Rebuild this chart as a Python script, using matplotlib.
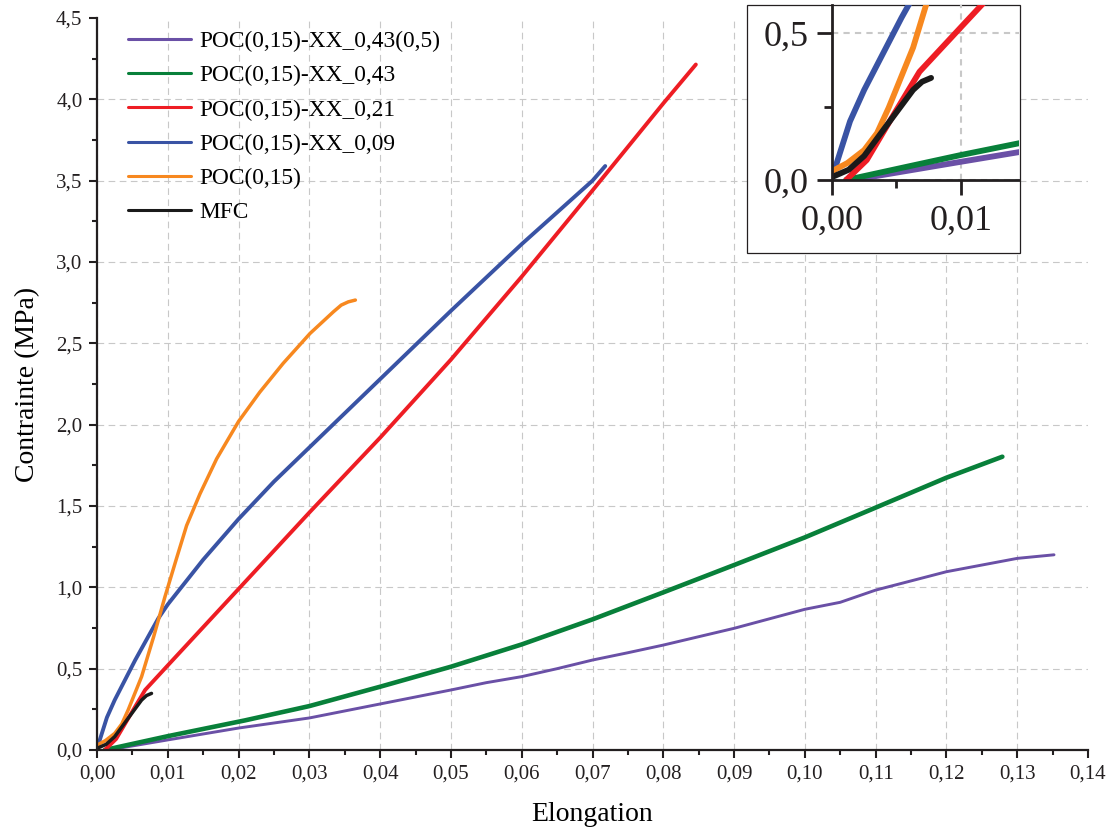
import numpy as np
import matplotlib
matplotlib.use('Agg')
import matplotlib.pyplot as plt
from matplotlib.patches import Rectangle
from matplotlib.ticker import MultipleLocator

plt.rcParams['font.family'] = ['Liberation Serif', 'DejaVu Serif']

# curves (elongation, stress in MPa)
x_043_05 = [0.0016, 0.005, 0.01, 0.02, 0.03, 0.04, 0.05, 0.055, 0.06, 0.065, 0.07,
            0.075, 0.08, 0.09, 0.10, 0.105, 0.11, 0.12, 0.13, 0.1352]
y_043_05 = [0.0, 0.025, 0.062, 0.135, 0.197, 0.283, 0.369, 0.414, 0.451, 0.50, 0.553,
            0.598, 0.645, 0.748, 0.865, 0.908, 0.983, 1.096, 1.178, 1.20]

x_043 = [0.0011, 0.0058, 0.01, 0.0145, 0.0209, 0.03, 0.04, 0.05, 0.06, 0.07, 0.08,
         0.09, 0.10, 0.11, 0.12, 0.1279]
y_043 = [0.0, 0.045, 0.085, 0.125, 0.182, 0.27, 0.389, 0.512, 0.649, 0.803, 0.969,
         1.137, 1.307, 1.49, 1.674, 1.803]

x_021 = [0.0011, 0.0027, 0.0047, 0.0068, 0.01, 0.02, 0.03, 0.04, 0.05, 0.06,
         0.07, 0.08, 0.0846]
y_021 = [0.0, 0.068, 0.216, 0.369, 0.52, 0.99, 1.46, 1.92, 2.40, 2.91,
         3.44, 3.975, 4.214]

x_009 = [0.0002, 0.0014, 0.0025, 0.0054, 0.00866, 0.01, 0.015, 0.02, 0.025, 0.03,
         0.035, 0.04, 0.05, 0.06, 0.07, 0.0718]
y_009 = [0.035, 0.2, 0.307, 0.553, 0.809, 0.895, 1.17, 1.42, 1.65, 1.86,
         2.07, 2.28, 2.70, 3.11, 3.50, 3.59]

x_poc = [0.0, 0.0012, 0.0025, 0.0035, 0.0044, 0.0063, 0.008, 0.0096, 0.01125, 0.01266,
         0.01455, 0.0169, 0.02, 0.023, 0.0263, 0.0301, 0.0334, 0.0345, 0.0355, 0.0365]
y_poc = [0.03, 0.058, 0.102, 0.16, 0.246, 0.451, 0.696, 0.942, 1.18, 1.38,
         1.575, 1.79, 2.02, 2.20, 2.377, 2.561, 2.694, 2.735, 2.755, 2.766]

x_mfc = [0.0, 0.0013, 0.0025, 0.0044, 0.0063, 0.007, 0.0077]
y_mfc = [0.01, 0.035, 0.082, 0.195, 0.307, 0.335, 0.348]

labels = ['POC(0,15)-XX_0,43(0,5)', 'POC(0,15)-XX_0,43', 'POC(0,15)-XX_0,21',
          'POC(0,15)-XX_0,09', 'POC(0,15)', 'MFC']
colors = ['#6a50a6', '#08803a', '#ee1d24', '#3953a4', '#f7881f', '#1a1a1a']

xticks = [0.00, 0.01, 0.02, 0.03, 0.04, 0.05, 0.06, 0.07, 0.08, 0.09, 0.10, 0.11, 0.12, 0.13, 0.14]
xtick_labels = ['0,00', '0,01', '0,02', '0,03', '0,04', '0,05', '0,06', '0,07', '0,08',
                '0,09', '0,10', '0,11', '0,12', '0,13', '0,14']
yticks = [0.0, 0.5, 1.0, 1.5, 2.0, 2.5, 3.0, 3.5, 4.0, 4.5]
ytick_labels = ['0,0', '0,5', '1,0', '1,5', '2,0', '2,5', '3,0', '3,5', '4,0', '4,5']
ins_xticks = [0.0, 0.01]
ins_xtick_labels = ['0,00', '0,01']
ins_yticks = [0.0, 0.5]
ins_ytick_labels = ['0,0', '0,5']

series = [(x_043_05, y_043_05), (x_043, y_043), (x_021, y_021),
          (x_009, y_009), (x_poc, y_poc), (x_mfc, y_mfc)]
widths = [2.1, 3.3, 2.8, 2.8, 2.5, 2.5]
draw_order = [0, 1, 3, 4, 2, 5]

W, H = 1114, 830
fig = plt.figure(figsize=(W / 100, H / 100), dpi=100)
ax = fig.add_axes([97 / W, 80 / H, 991 / W, 732 / H])

handles = [None] * 6
for i in draw_order:
    xs, ys = series[i]
    ln, = ax.plot(xs, ys, color=colors[i], lw=widths[i], label=labels[i],
                  solid_capstyle='round', solid_joinstyle='round')
    handles[i] = ln

ax.set_xlim(0, 0.14)
ax.set_ylim(0, 4.5)
ax.set_xticks(xticks)
ax.set_xticklabels(xtick_labels)
ax.set_yticks(yticks)
ax.set_yticklabels(ytick_labels)
ax.xaxis.set_minor_locator(MultipleLocator(0.005))
ax.yaxis.set_minor_locator(MultipleLocator(0.25))
ax.tick_params(which='major', direction='out', length=6, width=1.5, labelsize=15, pad=4.5,
               colors='#231f20')
ax.tick_params(which='minor', direction='out', length=3.5, width=1.5, colors='#231f20')
for s in ['top', 'right']:
    ax.spines[s].set_visible(False)
for s in ['left', 'bottom']:
    ax.spines[s].set_linewidth(1.6)
    ax.spines[s].set_color('#231f20')

ax.grid(True, which='major', color='#c8c8c8', lw=0.8, linestyle=(0, (6, 4)))
ax.set_axisbelow(True)
ax.xaxis.get_major_ticks()[-1].gridline.set_visible(False)
ax.yaxis.get_major_ticks()[-1].gridline.set_visible(False)

ax.set_xlabel('Elongation', fontsize=20, va='center')
ax.xaxis.set_label_coords(0.5, -(814 - 750) / 732)
ax.set_ylabel('Contrainte (MPa)', fontsize=20, va='center')
ax.yaxis.set_label_coords((27.5 - 97) / 991, 0.5)

leg = ax.legend(handles=handles, labels=labels, loc='upper left',
                bbox_to_anchor=(128 / W, 1 - 31 / H), bbox_transform=fig.transFigure,
                frameon=False, fontsize=16.8, handlelength=2.7, handletextpad=0.35,
                labelspacing=0.55, borderpad=0, borderaxespad=0)
for ln in leg.get_lines():
    ln.set_linewidth(2.2)

# inset zoom on the origin
frame = Rectangle((747 / W, (H - 253) / H), 273 / W, 248 / H, transform=fig.transFigure,
                  facecolor='white', edgecolor='#231f20', lw=0.9, zorder=1)
fig.add_artist(frame)

ins = fig.add_axes([832 / W, (H - 180) / H, 187 / W, 175 / H])
ins.set_zorder(2)
ins.patch.set_alpha(0)
for i in draw_order:
    xs, ys = series[i]
    ins.plot(xs, ys, color=colors[i], lw=4.2, solid_capstyle='round')
ins.set_xlim(0, 187 / 12870)
ins.set_ylim(0, 175 / 293.4)
ins.set_xticks(ins_xticks)
ins.set_xticklabels(ins_xtick_labels)
ins.set_yticks(ins_yticks)
ins.set_yticklabels(ins_ytick_labels)
ins.xaxis.set_minor_locator(MultipleLocator(0.005))
ins.yaxis.set_minor_locator(MultipleLocator(0.25))
ins.tick_params(which='major', direction='out', length=11, width=2, labelsize=26,
                colors='#231f20')
ins.tick_params(axis='x', which='major', pad=6.5)
ins.tick_params(axis='y', which='major', pad=6)
ins.tick_params(which='minor', direction='out', length=5.5, width=2, colors='#231f20')
for s in ['top', 'right']:
    ins.spines[s].set_visible(False)
for s in ['left', 'bottom']:
    ins.spines[s].set_linewidth(2)
    ins.spines[s].set_color('#231f20')
ins.grid(True, which='major', color='#c8c8c8', lw=1.5, linestyle=(0, (3, 2.5)))
ins.set_axisbelow(True)

fig.savefig('out.png', dpi=100)
